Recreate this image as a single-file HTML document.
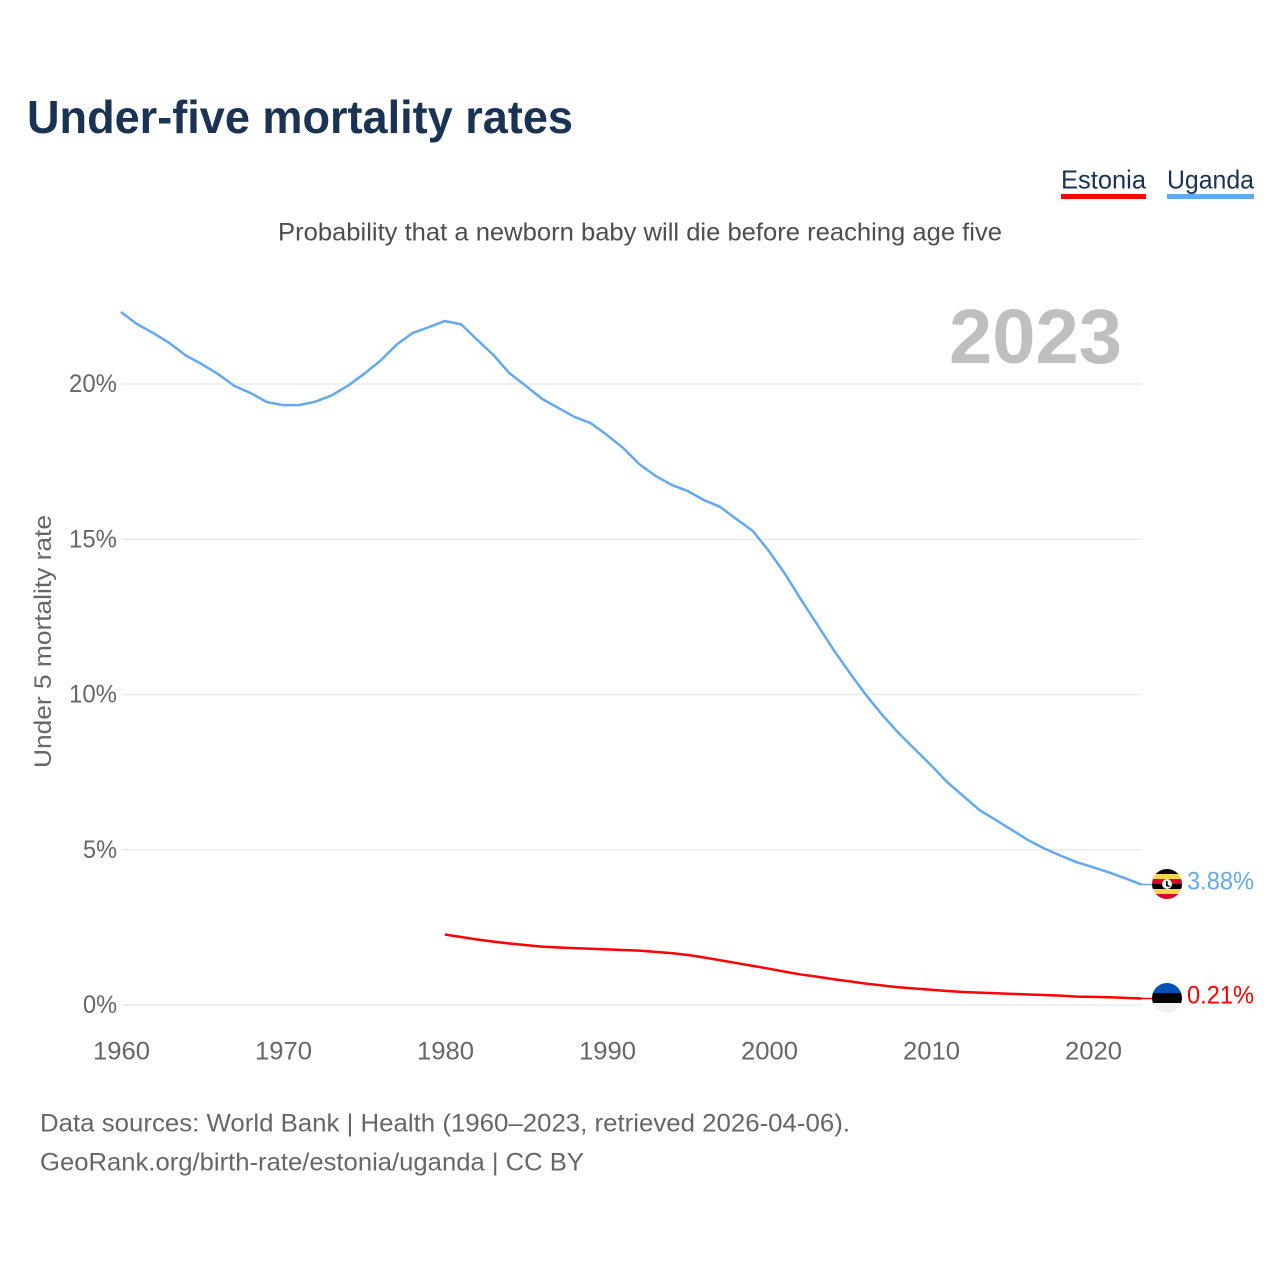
<!DOCTYPE html>
<html lang="en">
<head>
<meta charset="utf-8">
<title>Under-five mortality rates</title>
<style>
html,body{margin:0;padding:0;background:#fff}
svg{display:block}
text{font-family:"Liberation Sans",sans-serif}
</style>
</head>
<body>
<svg id="chart" xmlns="http://www.w3.org/2000/svg" width="1280" height="1280" viewBox="0 0 1280 1280">
  <defs>
    <clipPath id="flag-clip"><circle cx="0" cy="0" r="15"></circle></clipPath>
  </defs>
  <rect x="0" y="0" width="1280" height="1280" fill="#ffffff"></rect>
  <text x="27" y="133" font-size="46" font-weight="700" fill="#1a3353" textLength="546" lengthAdjust="spacingAndGlyphs">Under-five mortality rates</text>
  <g>
    <text x="1061" y="188.5" font-size="26" fill="#1a3353" textLength="85" lengthAdjust="spacingAndGlyphs">Estonia</text>
    <rect x="1061" y="194" width="85" height="5" fill="#ff0000"></rect>
  </g>
  <g>
    <text x="1167" y="188.5" font-size="26" fill="#1a3353" textLength="87" lengthAdjust="spacingAndGlyphs">Uganda</text>
    <rect x="1167" y="194" width="87" height="5" fill="#63a9f0"></rect>
  </g>
  <text x="278" y="240.5" font-size="25" fill="#4d4d4d" textLength="724" lengthAdjust="spacingAndGlyphs">Probability that a newborn baby will die before reaching age five</text>
  <g id="grid"></g>
  <g id="y-ticks"></g>
  <g id="x-ticks"></g>
  <text transform="translate(51,768) rotate(-90)" x="0" y="0" font-size="24.5" fill="#666666" textLength="253" lengthAdjust="spacingAndGlyphs">Under 5 mortality rate</text>
  <text id="year-label" x="949" y="363" font-size="77" font-weight="700" fill="#bfbfbf" textLength="173" lengthAdjust="spacingAndGlyphs">2023</text>
  <g id="lines"></g>
  <g id="flag-uganda">
    <g clip-path="url(#flag-clip)">
      <rect x="-15" y="-15" width="30" height="5.2" fill="#000000"></rect>
      <rect x="-15" y="-10" width="30" height="5.2" fill="#ffd34d"></rect>
      <rect x="-15" y="-5" width="30" height="5.2" fill="#d80027"></rect>
      <rect x="-15" y="0" width="30" height="5.2" fill="#000000"></rect>
      <rect x="-15" y="5" width="30" height="5.2" fill="#ffd34d"></rect>
      <rect x="-15" y="10" width="30" height="5.2" fill="#d80027"></rect>
      <circle cx="0" cy="0" r="5" fill="#f0f0f0"></circle>
      <path d="M-1 -3 L0.5 -3 L0.8 1 L3 2 L2 3 L-1 2 Z" fill="#000000"></path>
    </g>
  </g>
  <g id="flag-estonia">
    <g clip-path="url(#flag-clip)">
      <rect x="-15" y="-15" width="30" height="10.2" fill="#0052b4"></rect>
      <rect x="-15" y="-5" width="30" height="10.2" fill="#000000"></rect>
      <rect x="-15" y="5" width="30" height="10" fill="#f0f0f0"></rect>
    </g>
  </g>
  <text id="value-uganda" x="1187" font-size="25" fill="#63a9f0" textLength="67" lengthAdjust="spacingAndGlyphs"></text>
  <text id="value-estonia" x="1187" font-size="25" fill="#ff0000" textLength="67" lengthAdjust="spacingAndGlyphs"></text>
  <text x="40" y="1131.5" font-size="25" fill="#666666" textLength="810" lengthAdjust="spacingAndGlyphs">Data sources: World Bank | Health (1960–2023, retrieved 2026-04-06).</text>
  <text x="40" y="1170.5" font-size="25" fill="#666666" textLength="544" lengthAdjust="spacingAndGlyphs">GeoRank.org/birth-rate/estonia/uganda | CC BY</text>
</svg>
<script>
const ugandaStartYear = 1960;
const ugandaValues = [22.32,21.93,21.64,21.32,20.92,20.64,20.32,19.94,19.71,19.42,19.32,19.32,19.43,19.63,19.94,20.32,20.74,21.26,21.64,21.83,22.03,21.92,21.42,20.93,20.34,19.94,19.52,19.23,18.94,18.74,18.36,17.94,17.42,17.04,16.75,16.55,16.26,16.04,15.65,15.27,14.62,13.88,13.04,12.24,11.43,10.69,9.98,9.34,8.76,8.24,7.73,7.18,6.73,6.28,5.96,5.64,5.31,5.04,4.81,4.6,4.44,4.27,4.08,3.88];
const estoniaStartYear = 1980;
const estoniaValues = [2.27,2.19,2.11,2.04,1.98,1.93,1.88,1.85,1.83,1.81,1.79,1.77,1.75,1.71,1.67,1.61,1.53,1.44,1.35,1.26,1.17,1.07,0.98,0.91,0.83,0.76,0.69,0.63,0.57,0.53,0.49,0.45,0.42,0.4,0.38,0.36,0.34,0.32,0.3,0.27,0.26,0.25,0.23,0.21];
const yTickValues = [0,5,10,15,20];
const xTickYears = [1960,1970,1980,1990,2000,2010,2020];

const NS = 'http://www.w3.org/2000/svg';
function xScale(year){ return 120.9 + (year - 1960) * 16.2; }
function yScale(v){ return 1005 - v * 31.05; }
function make(tag, attrs, parent){
  const el = document.createElementNS(NS, tag);
  for (const k in attrs) el.setAttribute(k, attrs[k]);
  parent.appendChild(el);
  return el;
}
const gridG = document.getElementById('grid');
const yG = document.getElementById('y-ticks');
const xG = document.getElementById('x-ticks');
const linesG = document.getElementById('lines');

yTickValues.forEach(function(v){
  const line = make('line', {x1:121.5, x2:1142, y1:yScale(v), y2:yScale(v), stroke:'#ebebeb', 'stroke-width':1.5}, gridG);
  
  
  const label = v + '%';
  const t = make('text', {x:117, y:yScale(v) + 8, 'font-size':25, fill:'#666666', 'text-anchor':'end', textLength:label.length * 14 + 6, lengthAdjust:'spacingAndGlyphs'}, yG);
  
  
  t.textContent = label;
});

xTickYears.forEach(function(y){
  const t = make('text', {x:xScale(y) + 0.6, y:1059.5, 'font-size':25, fill:'#666666', 'text-anchor':'middle', textLength:57, lengthAdjust:'spacingAndGlyphs'}, xG);
  
  
  t.textContent = String(y);
});

function pathFor(values, start){
  return values.map(function(v, i){
    return (i ? 'L' : 'M') + xScale(start + i).toFixed(2) + ' ' + yScale(v).toFixed(2);
  }).join(' ');
}
function drawSeries(values, start, color, lineName, connName, flagId, labelId){
  const p = make('path', {d:pathFor(values, start), fill:'none', stroke:color, 'stroke-width':2.5, 'stroke-linejoin':'round'}, linesG);
  
  
  const last = values[values.length - 1];
  const endX = xScale(start + values.length - 1);
  const endY = yScale(last);
  const c = make('line', {x1:endX, x2:1155, y1:endY, y2:endY, stroke:color, 'stroke-width':1.5}, linesG);
  
  
  document.getElementById(flagId).setAttribute('transform', 'translate(1167,' + (endY - 0.5) + ')');
  const t = document.getElementById(labelId);
  t.setAttribute('y', endY + 5);
  t.textContent = last.toFixed(2) + '%';
}
drawSeries(ugandaValues, ugandaStartYear, '#63a9f0', 'uganda-line', 'uganda-connector', 'flag-uganda', 'value-uganda');
drawSeries(estoniaValues, estoniaStartYear, '#ff0000', 'estonia-line', 'estonia-connector', 'flag-estonia', 'value-estonia');
</script>
</body>
</html>
